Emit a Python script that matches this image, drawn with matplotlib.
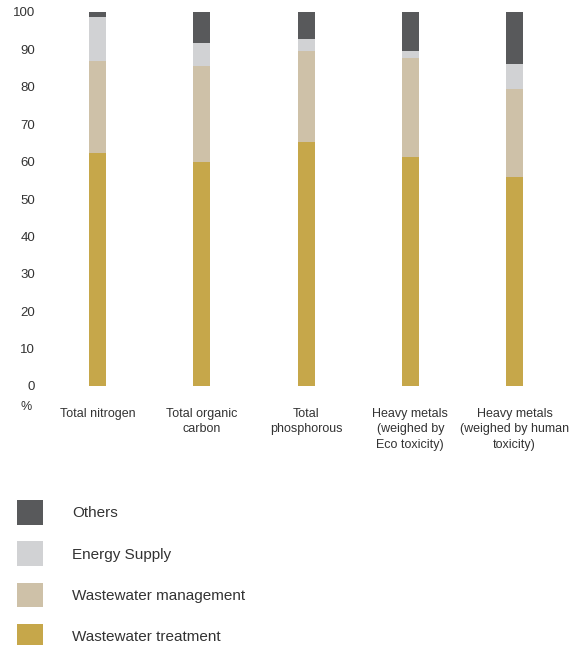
import matplotlib.pyplot as plt

plt.rcParams['font.family'] = ['Liberation Sans', 'DejaVu Sans']

# share of each source, in percent
categories = ['Total nitrogen', 'Total organic\ncarbon', 'Total\nphosphorous',
              'Heavy metals\n(weighed by\nEco toxicity)',
              'Heavy metals\n(weighed by human\ntoxicity)']
treatment = [62.3, 59.9, 65.2, 61.2, 55.9]
management = [24.6, 25.7, 24.4, 26.5, 23.5]
energy = [11.8, 6.1, 3.2, 1.9, 6.7]
others = [1.3, 8.3, 7.2, 10.4, 13.9]
yticks = [0, 10, 20, 30, 40, 50, 60, 70, 80, 90, 100]

col_treat = '#c6a74a'
col_mgmt = '#cec1a8'
col_energy = '#d1d2d4'
col_others = '#58595b'
txt = '#333333'

fig = plt.figure(figsize=(5.73, 6.45), dpi=100)
ax = fig.add_axes([45 / 573, 1 - 386 / 645, 528 / 573, 374 / 645])

x = list(range(len(categories)))
w = 0.163
b1 = treatment
b2 = [a + b for a, b in zip(b1, management)]
b3 = [a + b for a, b in zip(b2, energy)]

h_treat = ax.bar(x, treatment, w, color=col_treat, label='Wastewater treatment')
h_mgmt = ax.bar(x, management, w, bottom=b1, color=col_mgmt, label='Wastewater management')
h_energy = ax.bar(x, energy, w, bottom=b2, color=col_energy, label='Energy Supply')
h_others = ax.bar(x, others, w, bottom=b3, color=col_others, label='Others')

ax.set_xlim(-0.504, 4.561)
ax.set_ylim(0, 100)
ax.set_yticks(yticks)
ax.set_yticklabels([str(v) for v in yticks], fontsize=9.5, color=txt)
ax.set_xticks(x)
ax.set_xticklabels(categories, fontsize=9, color=txt, va='top', linespacing=1.35)
ax.tick_params(axis='y', length=0, pad=7)
ax.tick_params(axis='x', length=0, pad=16)
for s in ax.spines.values():
    s.set_visible(False)

fig.text(26 / 573, 1 - 407 / 645, '%', fontsize=9, color=txt, ha='center', va='center')

fig.legend(handles=[h_others, h_energy, h_mgmt, h_treat],
           labels=['Others', 'Energy Supply', 'Wastewater management', 'Wastewater treatment'],
           loc='upper left', bbox_to_anchor=(17 / 573, 1 - 500 / 645),
           frameon=False, fontsize=11, handlelength=1.7, handleheight=2.1,
           handletextpad=1.9, labelspacing=1.1, borderpad=0, borderaxespad=0,
           labelcolor=txt)

fig.savefig('out.png', dpi=100)
